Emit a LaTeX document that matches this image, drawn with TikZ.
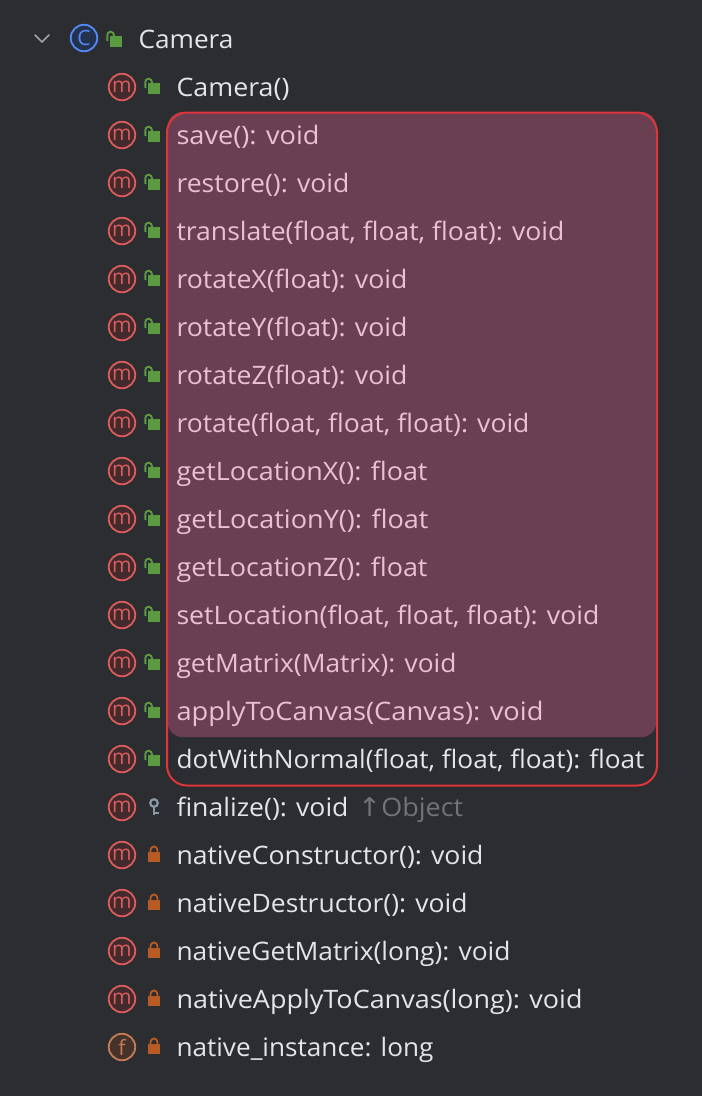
\documentclass[tikz,border=0pt]{standalone}
\usepackage{graphicx}
\usepackage{fontspec}
\setmainfont{Open Sans}
\newfontfamily\arrowfont{DejaVu Sans}
\definecolor{bg}{HTML}{2B2D30}
\definecolor{hl}{HTML}{6B3F52}
\definecolor{hlborder}{HTML}{E0353A}
\definecolor{normaltext}{HTML}{E3E5E9}
\definecolor{hltext}{HTML}{EDBFD5}
\definecolor{greytext}{HTML}{6F737A}
\definecolor{mred}{HTML}{DB5C5C}
\definecolor{mfill}{HTML}{432A2C}
\definecolor{cblue}{HTML}{548AF7}
\definecolor{cfill}{HTML}{25324D}
\definecolor{forange}{HTML}{C77D55}
\definecolor{ffill}{HTML}{45322B}
\definecolor{lgreen}{HTML}{5A9A40}
\definecolor{lorange}{HTML}{B85A24}
\definecolor{lkey}{HTML}{8A99A5}
\definecolor{chev}{HTML}{A0A3AA}
\tikzset{
  x=1pt,y=-1pt,
  label text/.style={anchor=base west,inner sep=0pt,font=\fontsize{25.4}{30}\selectfont,text=normaltext},
  hl text/.style={label text,text=hltext},
  badge/.style={circle,minimum size=26.5pt,inner sep=0pt,line width=1.8pt,font=\fontsize{21}{21}\selectfont},
  mbadge/.style={badge,draw=mred,fill=mfill,text=mred},
  cbadge/.style={badge,draw=cblue,fill=cfill,text=cblue},
  fbadge/.style={badge,draw=forange,fill=ffill,text=forange},
}
\newcommand{\fitw}[2]{\resizebox{#1pt}{\height}{#2}}
% y axis points down here, so angle 270 is the top of an arc
\newcommand{\openlock}[2][0]{%
  \fill[lgreen] (148+#1,#2-4) rectangle (160+#1,#2+7);
  \draw[lgreen,line width=1.9pt] (145.3+#1,#2+1) -- (145.3+#1,#2-5) arc[start angle=180,end angle=360,radius=3.3] -- (151.9+#1,#2-3);
}
\newcommand{\closedlock}[1]{%
  \fill[lorange] (148,#1-3) rectangle (160,#1+7);
  \draw[lorange,line width=1.9pt] (150.5,#1-3) -- (150.5,#1-5) arc[start angle=180,end angle=360,radius=3.5] -- (157.5,#1-3);
}
\begin{document}
\begin{tikzpicture}
\useasboundingbox (0,0) rectangle (702,1096);
\fill[bg] (0,0) rectangle (702,1096);
% highlight
\fill[hl] (168,112) [rounded corners=14pt] -- (656,112) -- (656,737) -- (168,737) -- cycle;
\draw[hlborder,line width=2pt,rounded corners=20pt] (167,112.5) rectangle (657,785.5);
% header
\draw[chev,line width=1.7pt,line cap=round,line join=round] (35,35) -- (42,42) -- (49,35);
\node[cbadge] (cls) at (84,38) {C};
\openlock[-38]{40}
\node[label text] (title) at (138.3,48) {\fitw{95}{Camera}};
% methods
\foreach \nm/\yy/\ww/\txt in {
 m0/87/113/{Camera()},
 m14/759/468/{dotWithNormal(float, float, float): float},
 m16/855/307/{nativeConstructor(): void},
 m17/903/291/{nativeDestructor(): void},
 m18/951/334/{nativeGetMatrix(long): void},
 m19/999/406/{nativeApplyToCanvas(long): void}}{
  \node[mbadge] (\nm i) at (122,\yy) {m};
  \node[label text] (\nm t) at (176.3,\yy+9) {\fitw{\ww}{\txt}};
}
\foreach \yy in {87,759}{\openlock{\yy}}
\foreach \yy in {855,903,951,999,1047}{\closedlock{\yy}}
\foreach \nm/\yy/\ww/\txt in {
 m1/135/143/{save(): void},
 m2/183/173/{restore(): void},
 m3/231/388/{translate(float, float, float): void},
 m4/279/231/{rotateX(float): void},
 m5/327/231/{rotateY(float): void},
 m6/375/231/{rotateZ(float): void},
 m7/423/353/{rotate(float, float, float): void},
 m8/471/251/{getLocationX(): float},
 m9/519/252/{getLocationY(): float},
 m10/567/251/{getLocationZ(): float},
 m11/615/423/{setLocation(float, float, float): void},
 m12/663/280/{getMatrix(Matrix): void},
 m13/711/367/{applyToCanvas(Canvas): void}}{
  \node[mbadge] (\nm i) at (122,\yy) {m};
  \openlock{\yy}
  \node[hl text] (\nm t) at (176.3,\yy+9) {\fitw{\ww}{\txt}};
}
% finalize
\node[mbadge] (fini) at (122,807) {m};
\node[label text] (fint) at (176.3,816) {\fitw{172}{finalize(): void}};
\node[label text,text=greytext] (fino) at (358,816) {\fitw{105}{{\arrowfont\fontsize{26}{26}\selectfont ↑}Object}};
\draw[lkey,line width=2.2pt] (154,803) circle[radius=3.8];
\draw[lkey,line width=2.6pt] (154,807) -- (154,815);
\draw[lkey,line width=2pt] (154,812.5) -- (159,812.5);
% field
\node[fbadge] (fldi) at (122,1047) {f};
\node[label text] (fldt) at (176.3,1056) {\fitw{257}{native\_instance: long}};
\end{tikzpicture}
\end{document}
